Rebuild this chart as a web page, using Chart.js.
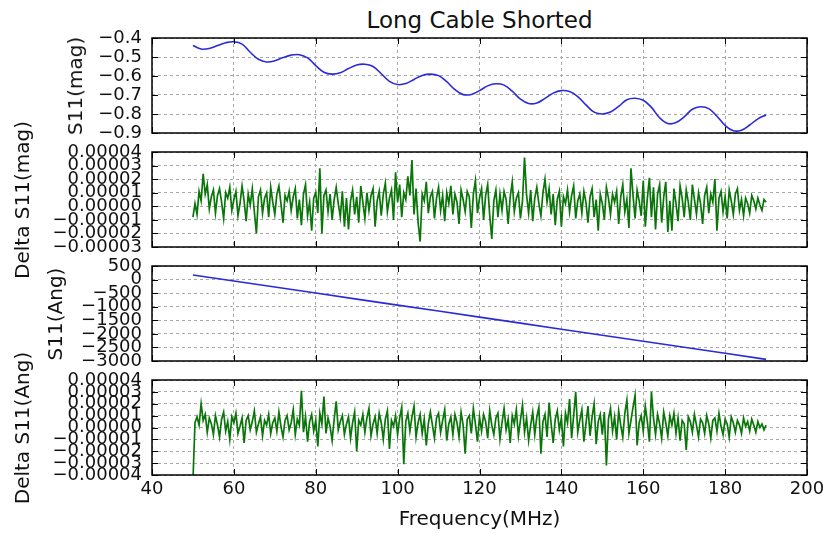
<!DOCTYPE html>
<html>
<head>
<meta charset="utf-8">
<script src="https://cdn.jsdelivr.net/npm/chart.js@4/dist/chart.umd.min.js"></script>
<style>
  body { margin: 0; background: #fff; }
  #wrap { position: relative; width: 823px; height: 533px; font-family: 'DejaVu Sans', sans-serif; color: #111; overflow: hidden; }
  #wrap canvas { position: absolute; left: 0; }
  .txt { position: absolute; white-space: nowrap; }
  .ylab { position: absolute; white-space: nowrap; font-size: 20px; line-height: 20px; transform: translate(-50%, -50%) rotate(-90deg); }
</style>
</head>
<body>
<div id="wrap">
  <div class="txt" style="left:479.5px; top:8.5px; font-size:23px; line-height:23px; transform:translateX(-50%)">Long Cable Shorted</div>
  <canvas id="c1" width="823" height="135" style="top:18px"></canvas>
  <canvas id="c2" width="823" height="135" style="top:132px"></canvas>
  <canvas id="c3" width="823" height="135" style="top:246px"></canvas>
  <canvas id="c4" width="823" height="173" style="top:360px"></canvas>
  <div class="ylab" style="left:75px; top:85.5px">S11(mag)</div>
  <div class="ylab" style="left:21.5px; top:199.5px">Delta S11(mag)</div>
  <div class="ylab" style="left:55px; top:313.5px">S11(Ang)</div>
  <div class="ylab" style="left:21.5px; top:427.5px">Delta S11(Ang)</div>
  <div class="txt" style="left:479.5px; top:508px; font-size:20px; line-height:20px; transform:translateX(-50%)">Frequency(MHz)</div>
</div>
<script>
// S11 magnitude (read every 2 MHz)
const magFreq = [50,52,54,56,58,60,62,64,66,68,70,72,74,76,78,80,82,84,86,88,90,92,94,96,98,
  100,102,104,106,108,110,112,114,116,118,120,122,124,126,128,130,132,134,136,138,140,142,144,146,148,
  150,152,154,156,158,160,162,164,166,168,170,172,174,176,178,180,182,184,186,188,190];
const s11Mag = [-0.440,-0.458,-0.455,-0.440,-0.425,-0.420,-0.432,-0.475,-0.512,-0.526,
  -0.520,-0.503,-0.490,-0.488,-0.505,-0.545,-0.580,-0.590,-0.583,-0.561,
  -0.542,-0.538,-0.550,-0.588,-0.628,-0.645,-0.640,-0.618,-0.597,-0.590,
  -0.598,-0.630,-0.672,-0.698,-0.697,-0.677,-0.652,-0.641,-0.648,-0.680,
  -0.722,-0.745,-0.742,-0.718,-0.690,-0.677,-0.682,-0.708,-0.752,-0.790,
  -0.800,-0.790,-0.760,-0.725,-0.717,-0.728,-0.765,-0.820,-0.850,-0.845,
  -0.815,-0.775,-0.762,-0.772,-0.812,-0.860,-0.888,-0.885,-0.858,-0.826,-0.805];

// S11 angle (read every 10 MHz)
const angFreq = [50,60,70,80,90,100,110,120,130,140,150,160,170,180,190];
const s11Ang = [170,-50,-275,-495,-720,-940,-1160,-1385,-1605,-1830,-2050,-2270,-2495,-2715,-2940];

// residuals, sampled every 0.5 MHz, values in units of 1e-5
const noiseFreq = [50,50.5,51,51.5,52,52.5,53,53.5,54,54.5,55,55.5,56,56.5,57,57.5,58,58.5,59,59.5,
  60,60.5,61,61.5,62,62.5,63,63.5,64,64.5,65,65.5,66,66.5,67,67.5,68,68.5,69,69.5,
  70,70.5,71,71.5,72,72.5,73,73.5,74,74.5,75,75.5,76,76.5,77,77.5,78,78.5,79,79.5,
  80,80.5,81,81.5,82,82.5,83,83.5,84,84.5,85,85.5,86,86.5,87,87.5,88,88.5,89,89.5,
  90,90.5,91,91.5,92,92.5,93,93.5,94,94.5,95,95.5,96,96.5,97,97.5,98,98.5,99,99.5,
  100,100.5,101,101.5,102,102.5,103,103.5,104,104.5,105,105.5,106,106.5,107,107.5,108,108.5,109,109.5,
  110,110.5,111,111.5,112,112.5,113,113.5,114,114.5,115,115.5,116,116.5,117,117.5,118,118.5,119,119.5,
  120,120.5,121,121.5,122,122.5,123,123.5,124,124.5,125,125.5,126,126.5,127,127.5,128,128.5,129,129.5,
  130,130.5,131,131.5,132,132.5,133,133.5,134,134.5,135,135.5,136,136.5,137,137.5,138,138.5,139,139.5,
  140,140.5,141,141.5,142,142.5,143,143.5,144,144.5,145,145.5,146,146.5,147,147.5,148,148.5,149,149.5,
  150,150.5,151,151.5,152,152.5,153,153.5,154,154.5,155,155.5,156,156.5,157,157.5,158,158.5,159,159.5,
  160,160.5,161,161.5,162,162.5,163,163.5,164,164.5,165,165.5,166,166.5,167,167.5,168,168.5,169,169.5,
  170,170.5,171,171.5,172,172.5,173,173.5,174,174.5,175,175.5,176,176.5,177,177.5,178,178.5,179,179.5,
  180,180.5,181,181.5,182,182.5,183,183.5,184,184.5,185,185.5,186,186.5,187,187.5,188,188.5,189,189.5,190];

const deltaMag = [-0.8,0.2,-0.6,1.1,0.4,2.4,0.9,1.6,-0.2,0.7, 1.2,-0.5,0.8,1.3,0.3,-0.9,1.0,0.6,1.4,-0.3,
  0.5,1.1,-0.7,0.2,1.5,0.4,-1.1,0.9,0.1,1.3, -0.4,-2.0,0.7,1.2,-0.5,0.6,1.0,-0.8,1.4,0.3,
  -0.6,0.9,1.5,0.2,-1.2,0.8,0.4,1.1,-0.3,0.7, 1.3,-0.9,0.5,-1.4,0.9,1.6,-0.7,0.3,-1.8,0.6,
  1.0,-0.5,2.8,-2.0,0.8,1.2,-0.4,0.9,-1.0,0.5, 1.4,0.2,-0.8,1.1,-1.5,0.6,-1.7,0.4,1.2,-0.6,
  0.7,-1.2,1.5,0.3,-0.9,1.0,-0.3,0.8,1.3,-1.5, 0.4,1.1,-0.7,0.9,1.7,-0.4,0.6,1.2,-1.0,2.5,
  0.3,1.6,-0.8,1.0,0.5,2.2,0.8,3.4,-0.6,1.3, -1.2,-2.6,0.9,0.4,1.8,-0.5,0.7,1.1,-0.9,0.6,
  1.4,-0.3,0.8,-1.1,1.0,0.2,1.5,-0.6,0.9,0.3, -1.3,1.2,0.5,-0.4,1.1,0.7,-1.6,0.9,1.9,-0.5,
  0.6,1.3,-1.0,0.8,1.6,-0.7,-2.4,0.4,1.2,-0.8, 0.9,-0.3,1.1,0.5,-1.3,0.7,1.8,-0.4,0.6,1.0,
  -0.9,0.4,3.6,0.8,-0.5,1.2,-1.1,0.6,1.4,0.2, -0.7,1.0,2.0,0.3,1.3,-0.6,0.9,-1.4,0.5,1.1,
  -1.5,0.7,0.2,1.2,-0.4,0.8,1.5,-0.9,0.4,0.9, -0.5,1.1,0.3,-1.2,0.7,1.3,-0.8,0.5,-1.8,0.9,
  0.2,-1.0,1.4,0.6,-0.6,0.9,0.3,1.1,-1.3,0.7, 1.6,-0.4,0.5,-1.6,2.8,0.8,-0.9,1.2,0.4,-0.7,
  1.9,-1.5,0.6,2.1,-0.8,1.4,-1.7,0.9,1.6,-1.2, 0.7,1.8,-1.9,0.4,-1.8,1.3,0.2,-1.1,1.5,0.6,
  -0.8,1.2,0.3,-1.0,1.6,0.5,-0.6,1.0,0.2,-1.3, 0.8,1.4,-0.5,0.9,0.3,2.0,-1.8,0.6,1.1,-0.4,
  0.7,-0.9,1.2,0.4,-0.6,0.9,1.3,-0.3,0.5,-0.7, 0.6,0.2,-0.5,0.8,0.4,-0.2,0.6,0.1,-0.3,0.5, 0.3];

const deltaAng = [-4.5,0.4,0.9,0.2,2.0,0.6,1.1,-0.4,0.8,0.3, -0.6,1.0,0.2,-0.8,0.7,1.3,-0.3,0.5,-1.0,0.9,
  0.4,1.2,-0.5,0.1,0.8,-1.3,0.6,1.0,-0.2,0.5, 1.4,-0.4,0.3,0.9,-0.7,0.6,0.2,1.1,-0.5,0.4,
  0.8,-0.3,1.3,0.1,-0.8,0.6,1.0,-0.2,0.4,1.5, -0.6,0.7,0.2,3.1,-0.4,0.9,-1.2,0.5,1.1,-0.3,
  0.6,-1.6,1.2,0.3,2.6,-0.5,0.8,0.1,-1.1,0.7, 2.2,-0.2,0.5,1.0,-0.6,0.3,0.9,-0.9,0.4,1.3,
  -2.0,0.6,0.2,1.1,-0.4,0.8,1.6,-0.7,0.3,0.9, -0.5,1.2,0.4,-1.0,0.7,1.4,-1.8,0.6,0.1,1.0,
  -0.6,0.8,1.7,-3.1,0.5,1.2,-0.3,0.9,1.8,-0.8, 0.4,1.1,-0.5,0.7,-1.5,0.3,1.3,0.2,-0.9,0.8,
  1.2,-0.4,0.6,1.5,-1.1,0.3,0.9,-0.6,1.1,0.4, -0.8,1.3,0.2,-2.2,0.7,1.0,-0.5,1.6,0.3,-1.2,
  0.9,-0.3,1.1,0.5,-0.9,1.4,0.2,-0.6,0.8,1.2, -1.0,0.4,1.6,-0.2,0.7,-1.3,1.0,0.3,1.5,-0.7,
  0.6,1.9,-0.4,0.8,-1.1,0.2,1.3,-0.6,0.9,1.7, -2.2,0.5,1.1,-0.8,2.1,0.3,-1.3,0.7,1.4,-0.2,
  0.8,-1.6,1.2,0.4,2.4,-0.9,1.0,3.0,-0.4,0.6, 1.5,-1.2,0.3,1.8,-0.7,0.9,2.0,-1.4,0.5,1.1,
  -0.6,1.3,-3.2,0.7,1.6,-0.3,0.9,-1.0,1.4,0.2, -0.8,1.2,2.3,-0.5,0.6,1.7,2.7,-1.5,0.4,1.0,
  -0.3,1.8,0.5,-1.2,3.0,0.8,-0.6,1.1,0.3,-0.9, 1.3,0.4,-0.7,1.0,0.2,1.2,-0.5,0.8,-1.1,0.6,
  0.3,-1.9,0.9,0.5,-0.4,1.1,0.2,-0.8,0.7,0.4, -0.5,1.0,0.3,-0.9,0.6,0.8,-0.3,1.2,0.1,-0.6,
  0.7,0.3,-0.8,0.9,0.4,-0.4,0.6,0.2,-0.5,0.8, 0.1,0.5,-0.3,0.7,0.2,-0.4,0.5,0.0,0.3,-0.2, 0.2];

const xTicksMin = 40, xTicksMax = 200, xTickStep = 20;

const minus = s => s.replace('-', '\u2212');
const tickFont = { family: 'DejaVu Sans', size: 18 };

// matplotlib-like box with inward ticks on all four sides
const framePlugin = {
  id: 'frame',
  afterDatasetsDraw(chart) {
    const { ctx, chartArea: a, scales: { x, y } } = chart;
    const len = 6;
    ctx.save();
    ctx.strokeStyle = '#000';
    ctx.lineWidth = 1;
    ctx.beginPath();
    x.ticks.forEach(t => {
      const px = Math.round(x.getPixelForValue(t.value)) + 0.5;
      ctx.moveTo(px, a.bottom); ctx.lineTo(px, a.bottom - len);
      ctx.moveTo(px, a.top); ctx.lineTo(px, a.top + len);
    });
    y.ticks.forEach(t => {
      const py = Math.round(y.getPixelForValue(t.value)) + 0.5;
      ctx.moveTo(a.left, py); ctx.lineTo(a.left + len, py);
      ctx.moveTo(a.right, py); ctx.lineTo(a.right - len, py);
    });
    ctx.stroke();
    ctx.lineWidth = 1.5;
    ctx.strokeRect(a.left, a.top, a.right - a.left, a.bottom - a.top);
    ctx.restore();
  }
};

function panel(id, labels, values, opts) {
  const last = !!opts.showX;
  return new Chart(document.getElementById(id), {
    type: 'line',
    data: {
      labels: labels,
      datasets: [{
        data: values,
        borderColor: opts.color,
        borderWidth: opts.width,
        tension: opts.tension || 0,
        pointRadius: 0,
        fill: false
      }]
    },
    options: {
      responsive: false,
      animation: false,
      devicePixelRatio: 1,
      layout: { padding: { top: 20, bottom: last ? 10 : 20, left: 0, right: 16 } },
      plugins: { legend: { display: false }, tooltip: { enabled: false } },
      scales: {
        x: {
          type: 'linear',
          min: xTicksMin,
          max: xTicksMax,
          grid: { color: '#a8a8a8', lineWidth: 1, drawTicks: false },
          border: { display: false, dash: [3, 3] },
          ticks: {
            display: last,
            stepSize: xTickStep,
            padding: 4,
            color: '#111',
            font: tickFont,
            maxRotation: 0,
            autoSkip: false
          },
          afterFit: s => { s.height = last ? 48 : 0; s.paddingLeft = 0; s.paddingRight = 0; }
        },
        y: {
          min: opts.yMin,
          max: opts.yMax,
          grid: { color: '#a8a8a8', lineWidth: 1, drawTicks: false },
          border: { display: false, dash: [3, 3] },
          ticks: {
            stepSize: opts.yStep,
            autoSkip: false,
            padding: 10,
            color: '#111',
            font: tickFont,
            callback: opts.fmt
          },
          afterFit: s => { s.width = 152; s.paddingTop = 0; s.paddingBottom = 0; }
        }
      }
    },
    plugins: [framePlugin]
  });
}

const fmt5 = v => minus(Math.abs(v) < 1e-12 ? '0.00000' : v.toFixed(5));

panel('c1', magFreq, s11Mag, {
  color: '#2a2ad8', width: 1.6, tension: 0.4,
  yMin: -0.9, yMax: -0.4, yStep: 0.1,
  fmt: v => minus(v.toFixed(1))
});
panel('c2', noiseFreq, deltaMag.map(v => v * 1e-5), {
  color: '#0a760a', width: 1.7,
  yMin: -3e-5, yMax: 4e-5, yStep: 1e-5,
  fmt: fmt5
});
panel('c3', angFreq, s11Ang, {
  color: '#2a2ad8', width: 1.6,
  yMin: -3000, yMax: 500, yStep: 500,
  fmt: v => minus(String(Math.round(v)))
});
panel('c4', noiseFreq, deltaAng.map(v => v * 1e-5), {
  color: '#0a760a', width: 1.7, showX: true,
  yMin: -4e-5, yMax: 4e-5, yStep: 1e-5,
  fmt: fmt5
});
</script>
</body>
</html>
